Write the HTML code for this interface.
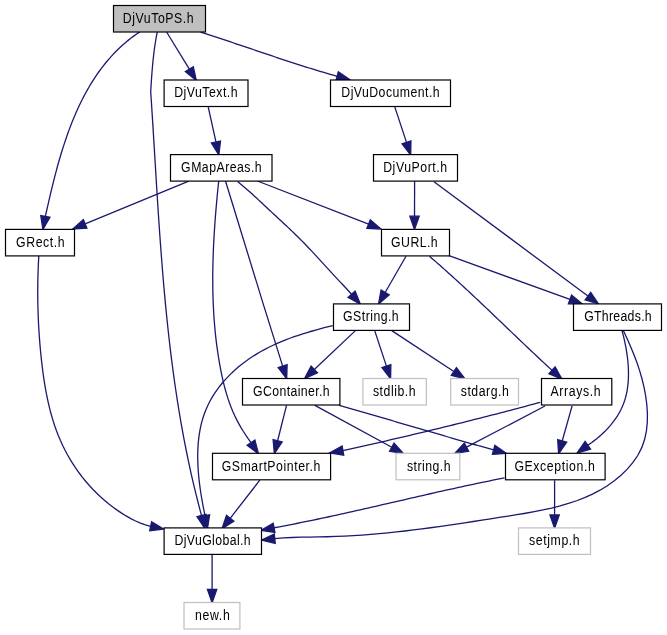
<!DOCTYPE html><html><head><meta charset="utf-8"><style>html,body{margin:0;padding:0;background:#fff;width:667px;height:635px;overflow:hidden}svg{display:block;will-change:transform}text{font-family:"Liberation Sans",sans-serif;font-size:12.3px;fill:#000}</style></head><body>
<svg width="667" height="635" viewBox="0 0 667 635">
<rect width="667" height="635" fill="#fff"/>
<g fill="none" stroke="#191970" stroke-width="1.3"><path d="M166.60,32.00 L189.34,69.13"/><path d="M200.70,32.20 L203.02,32.93 L205.33,33.67 L207.65,34.40 L209.96,35.15 L212.27,35.89 L214.59,36.64 L216.90,37.40 L219.21,38.16 L221.52,38.91 L223.82,39.68 L226.13,40.44 L228.44,41.21 L230.74,41.98 L233.05,42.75 L235.35,43.52 L237.66,44.30 L239.96,45.08 L242.27,45.85 L244.57,46.63 L246.87,47.41 L249.17,48.19 L251.48,48.97 L253.78,49.75 L256.08,50.53 L258.39,51.31 L260.69,52.09 L262.99,52.87 L265.29,53.65 L267.60,54.42 L269.90,55.20 L272.21,55.97 L274.51,56.75 L276.82,57.52 L279.12,58.29 L281.43,59.05 L283.74,59.82 L286.04,60.58 L288.35,61.34 L290.66,62.09 L292.97,62.84 L295.28,63.59 L297.60,64.34 L299.91,65.08 L302.22,65.82 L304.54,66.55 L306.86,67.28 L309.18,68.00 L311.50,68.72 L313.82,69.44 L316.14,70.15 L318.46,70.85 L320.79,71.55 L323.12,72.24 L325.45,72.93 L327.78,73.61 L330.11,74.28 L332.44,74.95 L334.78,75.61 L337.12,76.26"/><path d="M139.70,31.90 L136.63,33.99 L133.63,36.14 L130.71,38.35 L127.86,40.62 L125.08,42.95 L122.36,45.34 L119.71,47.78 L117.13,50.27 L114.62,52.82 L112.17,55.42 L109.78,58.07 L107.45,60.76 L105.18,63.51 L102.97,66.30 L100.82,69.13 L98.72,72.00 L96.68,74.92 L94.70,77.88 L92.76,80.87 L90.88,83.90 L89.05,86.97 L87.27,90.07 L85.54,93.20 L83.85,96.36 L82.21,99.55 L80.61,102.77 L79.06,106.02 L77.55,109.30 L76.08,112.59 L74.65,115.91 L73.25,119.25 L71.90,122.61 L70.58,125.99 L69.29,129.39 L68.04,132.80 L66.83,136.23 L65.64,139.67 L64.49,143.12 L63.36,146.58 L62.26,150.06 L61.19,153.54 L60.15,157.03 L59.13,160.53 L58.13,164.03 L57.16,167.54 L56.21,171.05 L55.28,174.56 L54.37,178.07 L53.48,181.58 L52.61,185.09 L51.75,188.60 L50.91,192.10 L50.09,195.59 L49.27,199.08 L48.47,202.57 L47.68,206.04 L46.90,209.50 L46.12,212.95 L45.37,216.40"/><path d="M157.30,32.00 L157.09,33.00 L156.89,33.99 L156.70,34.99 L156.50,35.99 L156.32,36.99 L156.14,37.99 L155.96,38.99 L155.78,39.99 L155.61,40.99 L155.45,41.99 L155.29,42.99 L155.13,44.00 L154.97,45.00 L154.83,46.00 L154.68,47.01 L154.54,48.01 L154.40,49.02 L154.26,50.02 L154.13,51.03 L154.00,52.04 L153.88,53.05 L153.75,54.05 L153.64,55.06 L153.52,56.07 L153.41,57.08 L153.30,58.09 L153.19,59.10 L153.08,60.11 L152.98,61.12 L152.88,62.13 L152.78,63.14 L152.69,64.15 L152.60,65.16 L152.51,66.18 L152.42,67.19 L152.33,68.20 L152.25,69.21 L152.16,70.22 L152.08,71.24 L152.00,72.25 L151.92,73.26 L151.85,74.28 L151.77,75.29 L151.70,76.30 L151.63,77.32 L151.56,78.33 L151.49,79.34 L151.42,80.36 L151.35,81.37 L151.28,82.38 L151.21,83.40 L151.15,84.41 L151.08,85.42 L151.02,86.44 L150.95,87.45 L150.89,88.46 L150.83,89.47 L150.76,90.49 L150.70,91.50 L151.18,98.72 L151.65,105.94 L152.11,113.17 L152.57,120.40 L153.02,127.63 L153.46,134.86 L153.91,142.10 L154.35,149.34 L154.79,156.58 L155.23,163.82 L155.67,171.06 L156.11,178.31 L156.56,185.55 L157.02,192.80 L157.48,200.04 L157.94,207.29 L158.42,214.53 L158.90,221.78 L159.40,229.02 L159.91,236.27 L160.43,243.51 L160.97,250.75 L161.52,257.99 L162.09,265.23 L162.67,272.46 L163.28,279.70 L163.90,286.93 L164.55,294.16 L165.22,301.38 L165.91,308.60 L166.63,315.82 L167.37,323.04 L168.14,330.25 L168.94,337.46 L169.77,344.66 L170.63,351.86 L171.52,359.05 L172.45,366.24 L173.40,373.42 L174.40,380.59 L175.43,387.77 L176.50,394.93 L177.60,402.09 L178.75,409.24 L179.94,416.39 L181.17,423.52 L182.44,430.66 L183.76,437.78 L185.12,444.89 L186.54,452.00 L188.00,459.10 L189.50,466.19 L191.06,473.28 L192.67,480.35 L194.34,487.41 L196.06,494.47 L197.83,501.51 L199.66,508.55 L201.54,515.57"/><path d="M208.10,106.40 L215.93,141.98"/><path d="M394.60,106.40 L406.51,142.35"/><path d="M188.80,181.20 L85.13,223.83"/><path d="M257.40,181.00 C294.58,195.08 331.57,209.65 368.59,224.14"/><path d="M237.80,181.70 L239.91,183.41 L242.00,185.15 L244.08,186.90 L246.13,188.68 L248.17,190.47 L250.20,192.28 L252.22,194.10 L254.23,195.93 L256.23,197.77 L258.22,199.62 L260.21,201.48 L262.19,203.34 L264.17,205.19 L266.16,207.05 L268.14,208.91 L270.13,210.76 L272.12,212.61 L274.12,214.46 L276.11,216.30 L278.10,218.15 L280.10,219.99 L282.09,221.84 L284.07,223.69 L286.05,225.54 L288.03,227.40 L290.00,229.27 L291.97,231.14 L293.92,233.02 L295.87,234.91 L297.80,236.80 L299.73,238.71 L301.64,240.64 L303.54,242.57 L305.43,244.51 L307.31,246.47 L309.17,248.44 L311.03,250.41 L312.88,252.39 L314.73,254.38 L316.57,256.38 L318.41,258.37 L320.24,260.38 L322.07,262.38 L323.90,264.39 L325.73,266.39 L327.57,268.39 L329.40,270.40 L331.24,272.40 L333.09,274.39 L334.94,276.38 L336.79,278.37 L338.65,280.35 L340.51,282.33 L342.37,284.31 L344.23,286.30 L346.08,288.29 L347.93,290.28 L349.77,292.28 L351.59,294.29"/><path d="M225.50,181.00 C244.51,242.73 263.12,304.55 282.66,366.10"/><path d="M218.70,181.00 L218.23,185.52 L217.78,190.04 L217.34,194.56 L216.91,199.10 L216.50,203.63 L216.10,208.17 L215.72,212.72 L215.36,217.27 L215.02,221.82 L214.70,226.38 L214.39,230.94 L214.11,235.50 L213.86,240.06 L213.62,244.63 L213.41,249.20 L213.23,253.77 L213.08,258.34 L212.95,262.91 L212.86,267.48 L212.79,272.05 L212.75,276.62 L212.75,281.19 L212.78,285.76 L212.85,290.33 L212.95,294.89 L213.09,299.46 L213.26,304.02 L213.48,308.58 L213.73,313.14 L214.02,317.69 L214.36,322.24 L214.74,326.78 L215.16,331.33 L215.63,335.86 L216.14,340.39 L216.71,344.92 L217.32,349.44 L217.97,353.96 L218.68,358.47 L219.44,362.97 L220.25,367.47 L221.12,371.95 L222.06,376.43 L223.06,380.88 L224.15,385.31 L225.32,389.71 L226.58,394.08 L227.94,398.42 L229.41,402.71 L231.00,406.96 L232.70,411.15 L234.54,415.29 L236.52,419.38 L238.63,423.39 L240.88,427.35 L243.26,431.25 L245.75,435.09 L248.34,438.87 L251.02,442.60"/><path d="M414.60,181.00 L414.53,216.17"/><path d="M434.00,181.70 L587.90,296.05"/><path d="M38.80,256.00 L38.51,261.36 L38.27,266.71 L38.07,272.06 L37.92,277.41 L37.82,282.75 L37.76,288.09 L37.74,293.42 L37.78,298.76 L37.85,304.09 L37.98,309.41 L38.15,314.74 L38.36,320.07 L38.62,325.39 L38.93,330.71 L39.29,336.03 L39.69,341.36 L40.13,346.68 L40.62,352.01 L41.16,357.33 L41.75,362.66 L42.38,367.99 L43.07,373.31 L43.83,378.63 L44.65,383.93 L45.55,389.22 L46.54,394.49 L47.61,399.73 L48.79,404.95 L50.07,410.13 L51.46,415.28 L52.98,420.39 L54.61,425.46 L56.39,430.48 L58.30,435.45 L60.36,440.36 L62.57,445.21 L64.94,449.99 L67.46,454.71 L70.13,459.35 L72.95,463.91 L75.91,468.38 L79.01,472.76 L82.25,477.04 L85.62,481.21 L89.13,485.27 L92.76,489.22 L96.52,493.05 L100.41,496.74 L104.41,500.31 L108.53,503.74 L112.77,507.02 L117.12,510.15 L121.57,513.13 L126.13,515.94 L130.80,518.59 L135.57,521.03 L140.46,523.19 L145.48,524.97 L150.65,526.27"/><path d="M406.00,256.30 L385.16,292.45"/><path d="M449.00,255.60 L569.97,299.46"/><path d="M429.50,256.30 L431.65,258.15 L433.80,260.01 L435.94,261.87 L438.07,263.73 L440.20,265.61 L442.33,267.49 L444.45,269.37 L446.57,271.26 L448.68,273.15 L450.78,275.05 L452.89,276.95 L454.99,278.86 L457.08,280.77 L459.17,282.69 L461.26,284.61 L463.35,286.53 L465.43,288.46 L467.51,290.39 L469.58,292.32 L471.65,294.26 L473.72,296.20 L475.79,298.14 L477.86,300.08 L479.92,302.03 L481.98,303.98 L484.04,305.93 L486.10,307.88 L488.15,309.84 L490.21,311.79 L492.26,313.75 L494.31,315.71 L496.36,317.67 L498.42,319.63 L500.47,321.59 L502.52,323.55 L504.56,325.51 L506.61,327.47 L508.66,329.43 L510.71,331.39 L512.76,333.35 L514.81,335.31 L516.86,337.27 L518.92,339.23 L520.97,341.19 L523.02,343.15 L525.08,345.10 L527.14,347.05 L529.20,349.00 L531.26,350.95 L533.32,352.90 L535.38,354.84 L537.45,356.79 L539.52,358.73 L541.59,360.66 L543.66,362.60 L545.74,364.53 L547.82,366.45 L549.90,368.38 L551.99,370.29"/><path d="M355.70,330.40 L314.30,369.45"/><path d="M374.60,330.40 L386.42,366.14"/><path d="M391.40,330.40 L453.86,371.48"/><path d="M332.80,325.60 L328.56,326.65 L324.29,327.74 L320.00,328.86 L315.70,330.03 L311.39,331.25 L307.07,332.53 L302.75,333.86 L298.44,335.26 L294.14,336.72 L289.86,338.26 L285.60,339.88 L281.37,341.58 L277.17,343.38 L273.01,345.26 L268.90,347.24 L264.83,349.33 L260.83,351.53 L256.88,353.83 L253.00,356.26 L249.20,358.80 L245.48,361.45 L241.85,364.22 L238.31,367.09 L234.88,370.07 L231.56,373.15 L228.36,376.33 L225.28,379.62 L222.34,383.00 L219.54,386.48 L216.89,390.05 L214.40,393.71 L212.07,397.45 L209.91,401.29 L207.92,405.21 L206.13,409.21 L204.52,413.29 L203.11,417.45 L201.88,421.67 L200.82,425.96 L199.94,430.30 L199.21,434.70 L198.63,439.13 L198.20,443.61 L197.91,448.12 L197.75,452.66 L197.71,457.22 L197.79,461.80 L197.98,466.38 L198.26,470.97 L198.64,475.55 L199.11,480.12 L199.65,484.68 L200.27,489.22 L200.94,493.73 L201.68,498.21 L202.46,502.65 L203.28,507.05 L204.13,511.39 L205.01,515.69"/><path d="M622.00,330.50 L622.54,332.55 L623.08,334.62 L623.59,336.71 L624.09,338.82 L624.57,340.96 L625.03,343.11 L625.47,345.27 L625.89,347.45 L626.28,349.65 L626.64,351.85 L626.98,354.07 L627.29,356.30 L627.56,358.53 L627.81,360.76 L628.02,363.01 L628.19,365.25 L628.32,367.49 L628.42,369.74 L628.47,371.98 L628.49,374.22 L628.45,376.45 L628.38,378.67 L628.25,380.89 L628.08,383.10 L627.85,385.29 L627.58,387.48 L627.25,389.64 L626.86,391.79 L626.42,393.93 L625.92,396.04 L625.35,398.14 L624.73,400.21 L624.04,402.26 L623.29,404.28 L622.47,406.28 L621.59,408.25 L620.64,410.19 L619.63,412.10 L618.56,413.98 L617.43,415.84 L616.25,417.67 L615.01,419.46 L613.73,421.23 L612.39,422.97 L611.01,424.68 L609.58,426.35 L608.10,428.00 L606.59,429.61 L605.04,431.20 L603.45,432.75 L601.83,434.27 L600.17,435.75 L598.48,437.21 L596.77,438.63 L595.02,440.02 L593.26,441.37 L591.47,442.70 L589.66,443.98 L587.84,445.24"/><path d="M623.30,330.50 L626.95,338.25 L630.45,346.15 L633.76,354.18 L636.83,362.34 L639.61,370.63 L642.06,379.04 L644.11,387.57 L645.72,396.21 L646.85,404.96 L647.41,413.76 L647.29,422.52 L646.38,431.14 L644.58,439.54 L641.77,447.62 L637.87,455.28 L632.97,462.47 L627.27,469.14 L620.99,475.26 L614.31,480.79 L607.31,485.75 L600.02,490.19 L592.46,494.14 L584.66,497.64 L576.64,500.75 L568.44,503.49 L560.08,505.92 L551.58,508.06 L542.98,509.98 L534.29,511.69 L525.55,513.26 L516.79,514.72 L508.03,516.10 L499.29,517.46 L490.59,518.82 L481.93,520.16 L473.30,521.49 L464.70,522.80 L456.13,524.09 L447.57,525.34 L439.03,526.56 L430.50,527.74 L421.97,528.87 L413.45,529.95 L404.92,530.98 L396.38,531.94 L387.83,532.83 L379.27,533.65 L370.68,534.39 L362.07,535.05 L353.42,535.61 L344.74,536.09 L336.02,536.46 L327.26,536.73 L318.46,536.90 L309.64,537.04 L300.83,537.22 L292.06,537.51 L283.36,537.96 L274.76,538.67"/><path d="M286.50,405.30 L277.63,440.77"/><path d="M314.90,405.40 L391.79,447.23"/><path d="M339.20,405.40 L341.82,406.14 L344.44,406.89 L347.06,407.63 L349.68,408.38 L352.30,409.13 L354.92,409.88 L357.54,410.63 L360.16,411.38 L362.78,412.14 L365.40,412.89 L368.01,413.65 L370.63,414.40 L373.25,415.16 L375.86,415.92 L378.48,416.68 L381.10,417.44 L383.71,418.20 L386.33,418.96 L388.94,419.72 L391.56,420.49 L394.17,421.25 L396.79,422.01 L399.40,422.78 L402.02,423.54 L404.63,424.30 L407.25,425.07 L409.86,425.83 L412.48,426.60 L415.09,427.36 L417.70,428.12 L420.32,428.89 L422.93,429.65 L425.55,430.41 L428.16,431.18 L430.78,431.94 L433.39,432.70 L436.01,433.46 L438.63,434.22 L441.24,434.98 L443.86,435.74 L446.47,436.50 L449.09,437.25 L451.71,438.01 L454.32,438.76 L456.94,439.52 L459.56,440.27 L462.18,441.02 L464.80,441.77 L467.42,442.52 L470.04,443.26 L472.66,444.01 L475.28,444.75 L477.90,445.50 L480.52,446.24 L483.14,446.97 L485.76,447.71 L488.39,448.45 L491.01,449.18 L493.64,449.91"/><path d="M540.30,402.30 L536.98,403.20 L533.65,404.09 L530.33,404.98 L527.00,405.87 L523.68,406.76 L520.35,407.64 L517.02,408.52 L513.69,409.40 L510.36,410.28 L507.03,411.15 L503.70,412.02 L500.36,412.89 L497.03,413.76 L493.70,414.62 L490.36,415.48 L487.02,416.34 L483.69,417.19 L480.35,418.04 L477.01,418.89 L473.67,419.74 L470.33,420.58 L466.99,421.42 L463.65,422.26 L460.31,423.09 L456.97,423.93 L453.62,424.75 L450.28,425.58 L446.93,426.41 L443.59,427.23 L440.24,428.05 L436.89,428.86 L433.55,429.67 L430.20,430.48 L426.85,431.29 L423.50,432.10 L420.15,432.90 L416.80,433.70 L413.45,434.49 L410.09,435.28 L406.74,436.07 L403.39,436.86 L400.03,437.65 L396.68,438.43 L393.32,439.21 L389.97,439.98 L386.61,440.76 L383.26,441.53 L379.90,442.29 L376.54,443.06 L373.18,443.82 L369.82,444.58 L366.47,445.33 L363.11,446.09 L359.75,446.84 L356.38,447.58 L353.02,448.33 L349.66,449.07 L346.30,449.81 L342.94,450.53"/><path d="M545.00,406.00 L466.50,447.20"/><path d="M572.10,405.90 L562.22,440.97"/><path d="M259.80,480.20 L230.18,518.28"/><path d="M504.50,477.90 L500.58,478.67 L496.66,479.44 L492.74,480.23 L488.82,481.02 L484.91,481.82 L481.00,482.64 L477.08,483.45 L473.18,484.28 L469.27,485.11 L465.36,485.95 L461.46,486.80 L457.55,487.65 L453.65,488.51 L449.75,489.37 L445.85,490.24 L441.95,491.11 L438.05,491.99 L434.15,492.87 L430.25,493.75 L426.36,494.64 L422.46,495.53 L418.57,496.42 L414.67,497.31 L410.78,498.21 L406.88,499.11 L402.99,500.01 L399.09,500.90 L395.20,501.80 L391.31,502.70 L387.41,503.60 L383.52,504.49 L379.62,505.39 L375.73,506.28 L371.83,507.18 L367.94,508.07 L364.04,508.95 L360.14,509.84 L356.25,510.72 L352.35,511.59 L348.45,512.46 L344.55,513.33 L340.65,514.19 L336.74,515.05 L332.84,515.90 L328.94,516.75 L325.03,517.59 L321.12,518.42 L317.21,519.25 L313.30,520.07 L309.39,520.88 L305.47,521.68 L301.56,522.47 L297.64,523.26 L293.72,524.03 L289.80,524.80 L285.87,525.56 L281.95,526.30 L278.02,527.04 L274.09,527.76"/><path d="M554.60,480.30 L554.60,514.97"/><path d="M212.10,555.00 L212.10,589.47"/></g>
<g fill="#191970" stroke="#191970" stroke-width="1.3"><polygon points="196.30,80.50 185.36,71.57 193.32,66.69"/><polygon points="350.00,79.70 335.92,80.77 338.33,71.75"/><polygon points="42.90,229.50 40.78,215.54 49.95,217.26"/><polygon points="204.80,528.50 197.01,516.72 206.07,514.43"/><polygon points="218.80,155.00 211.37,142.99 220.49,140.98"/><polygon points="410.70,155.00 402.08,143.81 410.94,140.88"/><polygon points="72.80,228.90 83.35,219.51 86.90,228.15"/><polygon points="381.00,229.00 366.88,228.49 370.29,219.79"/><polygon points="360.40,304.30 348.09,297.38 355.10,291.21"/><polygon points="286.70,378.80 278.21,367.51 287.12,364.68"/><polygon points="258.40,453.70 247.13,445.18 254.91,440.01"/><polygon points="414.50,229.50 409.86,216.16 419.20,216.18"/><polygon points="598.60,304.00 585.12,299.80 590.69,292.30"/><polygon points="163.70,529.00 149.70,530.84 151.61,521.70"/><polygon points="378.50,304.00 381.11,290.12 389.20,294.78"/><polygon points="582.50,304.00 568.38,303.85 571.56,295.07"/><polygon points="562.00,379.10 548.91,373.80 555.08,366.79"/><polygon points="304.60,378.60 311.09,366.06 317.50,372.85"/><polygon points="390.60,378.80 381.98,367.61 390.85,364.68"/><polygon points="465.00,378.80 451.30,375.38 456.43,367.57"/><polygon points="207.40,528.80 200.42,516.52 209.61,514.85"/><polygon points="577.00,453.00 585.12,441.44 590.56,449.04"/><polygon points="261.50,540.00 274.30,534.02 275.23,543.31"/><polygon points="274.40,453.70 273.10,439.64 282.16,441.90"/><polygon points="403.50,453.60 389.56,451.33 394.02,443.13"/><polygon points="506.50,453.40 492.41,454.41 494.86,445.40"/><polygon points="329.80,452.80 342.14,445.93 343.73,455.13"/><polygon points="454.70,453.40 464.33,443.07 468.67,451.34"/><polygon points="558.60,453.80 557.72,439.70 566.71,442.24"/><polygon points="222.00,528.80 226.50,515.41 233.87,521.15"/><polygon points="261.00,530.30 273.20,523.18 274.98,532.35"/><polygon points="554.60,528.30 549.93,514.97 559.27,514.97"/><polygon points="212.10,602.80 207.43,589.47 216.77,589.47"/></g>
<rect x="113.5" y="5.5" width="92" height="26.5" fill="#bfbfbf" stroke="#000" stroke-width="1.2"/>
<text transform="translate(158.20,23.00) scale(1,1.14)" x="0" y="0" text-anchor="middle" textLength="71.0" lengthAdjust="spacing">DjVuToPS.h</text>
<rect x="164.1" y="80" width="83.9" height="26.5" fill="#fff" stroke="#000" stroke-width="1.2"/>
<text transform="translate(205.90,97.00) scale(1,1.14)" x="0" y="0" text-anchor="middle" textLength="63.4" lengthAdjust="spacing">DjVuText.h</text>
<rect x="330.5" y="80" width="120" height="26.5" fill="#fff" stroke="#000" stroke-width="1.2"/>
<text transform="translate(390.45,97.00) scale(1,1.14)" x="0" y="0" text-anchor="middle" textLength="98.3" lengthAdjust="spacing">DjVuDocument.h</text>
<rect x="170.5" y="154.6" width="101.5" height="26.5" fill="#fff" stroke="#000" stroke-width="1.2"/>
<text transform="translate(221.40,172.00) scale(1,1.14)" x="0" y="0" text-anchor="middle" textLength="80.6" lengthAdjust="spacing">GMapAreas.h</text>
<rect x="373.5" y="154.6" width="84" height="26.5" fill="#fff" stroke="#000" stroke-width="1.2"/>
<text transform="translate(415.15,172.00) scale(1,1.14)" x="0" y="0" text-anchor="middle" textLength="63.9" lengthAdjust="spacing">DjVuPort.h</text>
<rect x="5.5" y="229.4" width="69" height="26.5" fill="#fff" stroke="#000" stroke-width="1.2"/>
<text transform="translate(40.35,247.00) scale(1,1.14)" x="0" y="0" text-anchor="middle" textLength="48.7" lengthAdjust="spacing">GRect.h</text>
<rect x="381.5" y="229.4" width="68" height="26.5" fill="#fff" stroke="#000" stroke-width="1.2"/>
<text transform="translate(414.40,247.00) scale(1,1.14)" x="0" y="0" text-anchor="middle" textLength="46.6" lengthAdjust="spacing">GURL.h</text>
<rect x="333.5" y="303.9" width="76" height="26.5" fill="#fff" stroke="#000" stroke-width="1.2"/>
<text transform="translate(370.90,321.00) scale(1,1.14)" x="0" y="0" text-anchor="middle" textLength="55.6" lengthAdjust="spacing">GString.h</text>
<rect x="573.5" y="303.9" width="88" height="26.5" fill="#fff" stroke="#000" stroke-width="1.2"/>
<text transform="translate(617.95,321.00) scale(1,1.14)" x="0" y="0" text-anchor="middle" textLength="67.5" lengthAdjust="spacing">GThreads.h</text>
<rect x="242.5" y="378.5" width="97.39999999999998" height="26.5" fill="#fff" stroke="#000" stroke-width="1.2"/>
<text transform="translate(291.40,396.00) scale(1,1.14)" x="0" y="0" text-anchor="middle" textLength="76.6" lengthAdjust="spacing">GContainer.h</text>
<rect x="362.9" y="378.5" width="63.400000000000034" height="26.5" fill="#fff" stroke="#bfbfbf" stroke-width="1.2"/>
<text transform="translate(394.25,396.00) scale(1,1.14)" x="0" y="0" text-anchor="middle" textLength="42.7" lengthAdjust="spacing">stdlib.h</text>
<rect x="450.7" y="378.5" width="67.80000000000001" height="26.5" fill="#fff" stroke="#bfbfbf" stroke-width="1.2"/>
<text transform="translate(484.75,396.00) scale(1,1.14)" x="0" y="0" text-anchor="middle" textLength="48.1" lengthAdjust="spacing">stdarg.h</text>
<rect x="541.5" y="378.5" width="70.29999999999995" height="26.5" fill="#fff" stroke="#000" stroke-width="1.2"/>
<text transform="translate(575.60,396.00) scale(1,1.14)" x="0" y="0" text-anchor="middle" textLength="50.2" lengthAdjust="spacing">Arrays.h</text>
<rect x="212.5" y="453.3" width="118.10000000000002" height="26.5" fill="#fff" stroke="#000" stroke-width="1.2"/>
<text transform="translate(271.00,471.00) scale(1,1.14)" x="0" y="0" text-anchor="middle" textLength="98.6" lengthAdjust="spacing">GSmartPointer.h</text>
<rect x="396.0" y="453.3" width="63.80000000000001" height="26.5" fill="#fff" stroke="#bfbfbf" stroke-width="1.2"/>
<text transform="translate(428.80,471.00) scale(1,1.14)" x="0" y="0" text-anchor="middle" textLength="43.6" lengthAdjust="spacing">string.h</text>
<rect x="505.5" y="453.3" width="99.60000000000002" height="26.5" fill="#fff" stroke="#000" stroke-width="1.2"/>
<text transform="translate(554.60,471.00) scale(1,1.14)" x="0" y="0" text-anchor="middle" textLength="80.4" lengthAdjust="spacing">GException.h</text>
<rect x="164.1" y="527.9" width="97.4" height="26.5" fill="#fff" stroke="#000" stroke-width="1.2"/>
<text transform="translate(212.55,545.00) scale(1,1.14)" x="0" y="0" text-anchor="middle" textLength="76.3" lengthAdjust="spacing">DjVuGlobal.h</text>
<rect x="518.5" y="527.9" width="72" height="26.5" fill="#fff" stroke="#bfbfbf" stroke-width="1.2"/>
<text transform="translate(554.40,545.00) scale(1,1.14)" x="0" y="0" text-anchor="middle" textLength="50.6" lengthAdjust="spacing">setjmp.h</text>
<rect x="184.0" y="602.5" width="55.900000000000006" height="26.5" fill="#fff" stroke="#bfbfbf" stroke-width="1.2"/>
<text transform="translate(212.35,620.00) scale(1,1.14)" x="0" y="0" text-anchor="middle" textLength="34.9" lengthAdjust="spacing">new.h</text>
</svg></body></html>
